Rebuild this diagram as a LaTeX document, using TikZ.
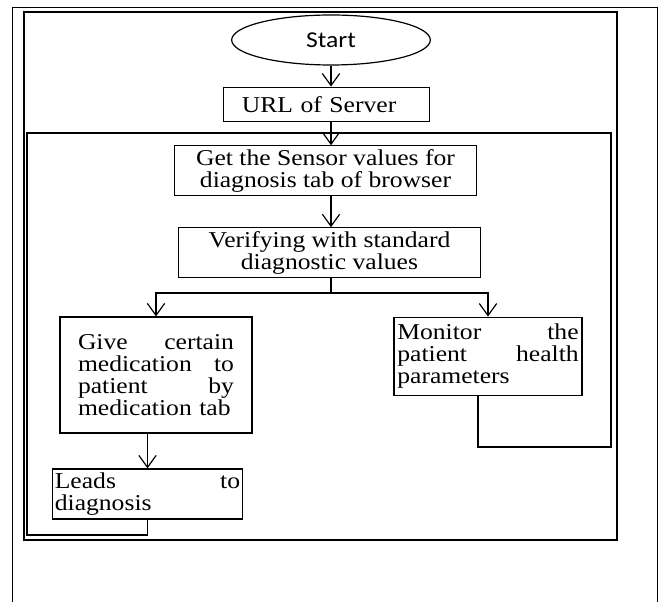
\documentclass[tikz,border=0pt]{standalone}
\usepackage{fontspec}
\setmainfont{Liberation Serif}[FakeStretch=1.13]
\newfontfamily\startfont{Carlito}[FakeStretch=1.13]
\usetikzlibrary{arrows.meta,shapes.geometric}

\newcommand\gapfill{\hskip 0pt plus 1filll\relax}

\tikzset{every picture/.style={line width=0.9pt}}
\tikzset{
  flowtxt/.style={font=\fontsize{17}{16.5}\selectfont},
  flowbox/.style={draw, rectangle, flowtxt, inner sep=2pt},
  flowarr/.style={-{Straight Barb[length=9pt,width=13pt,line width=0.9pt]}},
}

\begin{document}
\begin{tikzpicture}[x=0.75pt,y=0.75pt,yscale=-1,xscale=1]
\useasboundingbox (0,0) rectangle (661,602);

%Outer page frame (open at the bottom)
\draw [line width=1.1pt] (12.5,602) -- (12.5,7.5) -- (657.5,7.5) -- (657.5,602);
%Second frame
\draw [line width=1.5pt] (24,12.5) rectangle (617,539.5);

%Start
\node [draw, ellipse, font=\startfont\fontsize{17}{16.5}\selectfont, minimum width=149pt, minimum height=37.5pt, inner sep=0pt] (start) at (331,40) {Start};
%URL box
\node [flowbox, align=left, text width=127pt, inner xsep=14pt, minimum height=26pt] (url) at (326.5,104.5) {URL of Server};
%Sensor values box
\node [flowbox, align=center, minimum width=227pt, minimum height=37pt] (get) at (325.5,170.5) {Get the Sensor values for\\diagnosis tab of browser};
%Verify box
\node [flowbox, align=center, minimum width=227pt, minimum height=37pt] (verify) at (329.5,252.5) {Verifying with standard\\diagnostic values};
%Medication box
\node [flowbox, align=left, text width=117pt, inner xsep=13.5pt, minimum height=87pt] (give) at (156,375) {Give\gapfill certain\\medication\gapfill to\\patient\gapfill by\\medication~tab};
%Monitor box
\node [flowbox, align=left, text width=136pt, inner xsep=2.5pt, minimum height=59pt] (monitor) at (488,356.5) {Monitor\gapfill the\\patient\gapfill health\\parameters};
%Diagnosis box
\node [flowbox, align=left, text width=139pt, inner xsep=2pt, minimum height=37.5pt] (leads) at (147.5,494) {Leads\gapfill to\\diagnosis};

%Corners of the loop line
\coordinate (split) at (331,293);
\coordinate (looptr) at (611,133);
\coordinate (looptl) at (27,133);
\coordinate (loopbl) at (27,535);
\coordinate (loopbr) at (611,447);

%Main flow
\draw [flowarr] (start.south) -- (start.south |- url.north);
\draw [flowarr] (url.south -| start) -- (get.north -| start);
\draw [flowarr] (get.south -| start) -- (verify.north -| start);
\draw (verify.south -| split) -- (split);
\draw [flowarr] (split) -| (give.north);
\draw [flowarr] (split) -| (monitor.north);
\draw [flowarr] (give.south -| leads) -- (leads.north);

%Loop back line
\draw ([xshift=-7.5pt]monitor.south) |- (loopbr) -- (looptr) -- (looptl) -- (loopbl) -| (leads.south);
\end{tikzpicture}
\end{document}
